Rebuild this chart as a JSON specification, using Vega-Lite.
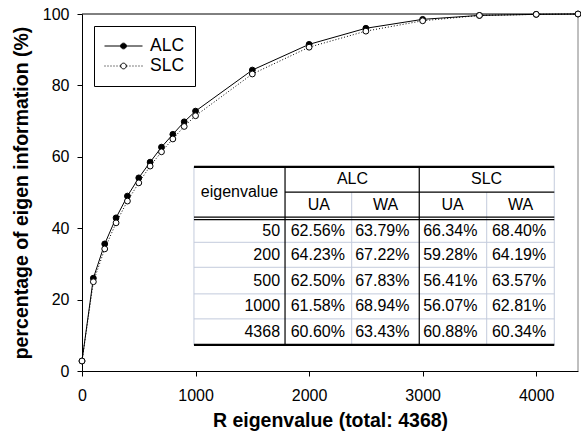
{
  "$schema": "https://vega.github.io/schema/vega-lite/v6.json",
  "width": 496,
  "height": 357,
  "autosize": {"type": "none"},
  "padding": {"left": 82, "top": 14, "right": 3, "bottom": 68},
  "background": "white",
  "config": {
    "font": "Liberation Sans",
    "view": {"stroke": null},
    "axis": {
      "labelFont": "Liberation Sans",
      "labelFontSize": 16,
      "labelColor": "black",
      "titleFont": "Liberation Sans",
      "titleFontSize": 19.5,
      "titleFontWeight": "bold",
      "titleColor": "black",
      "domainColor": "black",
      "domainWidth": 1,
      "tickColor": "black",
      "tickWidth": 1,
      "tickSize": 5,
      "grid": false,
      "labelFlush": false,
      "labelOverlap": false
    }
  },
  "datasets": {
    "curve": [
      {"series": "ALC", "x": 0, "y": 2.8},
      {"series": "ALC", "x": 100, "y": 26.0},
      {"series": "ALC", "x": 200, "y": 35.6},
      {"series": "ALC", "x": 300, "y": 42.9},
      {"series": "ALC", "x": 400, "y": 49.0},
      {"series": "ALC", "x": 500, "y": 54.1},
      {"series": "ALC", "x": 600, "y": 58.5},
      {"series": "ALC", "x": 700, "y": 62.7},
      {"series": "ALC", "x": 800, "y": 66.3},
      {"series": "ALC", "x": 900, "y": 69.8},
      {"series": "ALC", "x": 1000, "y": 72.8},
      {"series": "ALC", "x": 1500, "y": 84.3},
      {"series": "ALC", "x": 2000, "y": 91.5},
      {"series": "ALC", "x": 2500, "y": 96.0},
      {"series": "ALC", "x": 3000, "y": 98.5},
      {"series": "ALC", "x": 3500, "y": 99.6},
      {"series": "ALC", "x": 4000, "y": 99.9},
      {"series": "ALC", "x": 4368, "y": 100},
      {"series": "SLC", "x": 0, "y": 2.8},
      {"series": "SLC", "x": 100, "y": 25.0},
      {"series": "SLC", "x": 200, "y": 34.2},
      {"series": "SLC", "x": 300, "y": 41.5},
      {"series": "SLC", "x": 400, "y": 47.6},
      {"series": "SLC", "x": 500, "y": 52.7},
      {"series": "SLC", "x": 600, "y": 57.4},
      {"series": "SLC", "x": 700, "y": 61.4},
      {"series": "SLC", "x": 800, "y": 65.0},
      {"series": "SLC", "x": 900, "y": 68.5},
      {"series": "SLC", "x": 1000, "y": 71.5},
      {"series": "SLC", "x": 1500, "y": 83.2},
      {"series": "SLC", "x": 2000, "y": 90.7},
      {"series": "SLC", "x": 2500, "y": 95.2},
      {"series": "SLC", "x": 3000, "y": 98.1},
      {"series": "SLC", "x": 3500, "y": 99.6},
      {"series": "SLC", "x": 4000, "y": 99.9},
      {"series": "SLC", "x": 4368, "y": 100}
    ],
    "header": [
      {"text": "eigenvalue", "x": 1387, "y": 50.1},
      {"text": "ALC", "x": 2382, "y": 53.65},
      {"text": "SLC", "x": 3563, "y": 53.65},
      {"text": "UA", "x": 2085, "y": 46.6},
      {"text": "WA", "x": 2673, "y": 46.6},
      {"text": "UA", "x": 3263, "y": 46.6},
      {"text": "WA", "x": 3862, "y": 46.6}
    ],
    "rowlabels": [
      {"text": "50", "x": 1744, "y": 39.3},
      {"text": "200", "x": 1744, "y": 32.55},
      {"text": "500", "x": 1744, "y": 25.3},
      {"text": "1000", "x": 1744, "y": 18.1},
      {"text": "4368", "x": 1744, "y": 10.9}
    ],
    "cells": [
      {"text": "62.56%", "x": 2077, "y": 39.3},
      {"text": "63.79%", "x": 2645, "y": 39.3},
      {"text": "66.34%", "x": 3243, "y": 39.3},
      {"text": "68.40%", "x": 3849, "y": 39.3},
      {"text": "64.23%", "x": 2077, "y": 32.55},
      {"text": "67.22%", "x": 2645, "y": 32.55},
      {"text": "59.28%", "x": 3243, "y": 32.55},
      {"text": "64.19%", "x": 3849, "y": 32.55},
      {"text": "62.50%", "x": 2077, "y": 25.3},
      {"text": "67.83%", "x": 2645, "y": 25.3},
      {"text": "56.41%", "x": 3243, "y": 25.3},
      {"text": "63.57%", "x": 3849, "y": 25.3},
      {"text": "61.58%", "x": 2077, "y": 18.1},
      {"text": "68.94%", "x": 2645, "y": 18.1},
      {"text": "56.07%", "x": 3243, "y": 18.1},
      {"text": "62.81%", "x": 3849, "y": 18.1},
      {"text": "60.60%", "x": 2077, "y": 10.9},
      {"text": "63.43%", "x": 2645, "y": 10.9},
      {"text": "60.88%", "x": 3243, "y": 10.9},
      {"text": "60.34%", "x": 3849, "y": 10.9}
    ],
    "rules": [
      {"kind": "frametop", "x1": 0, "x2": 4368, "y1": 100, "y2": 100},
      {"kind": "frameright", "x1": 4368, "x2": 4368, "y1": 0, "y2": 100},
      {"kind": "light", "x1": 986, "x2": 986, "y1": 7.3, "y2": 57.2},
      {"kind": "light", "x1": 4159, "x2": 4159, "y1": 7.3, "y2": 57.2},
      {"kind": "light", "x1": 2375, "x2": 2375, "y1": 7.3, "y2": 50.1},
      {"kind": "light", "x1": 3564, "x2": 3564, "y1": 7.3, "y2": 50.1},
      {"kind": "light", "x1": 986, "x2": 4159, "y1": 36.05, "y2": 36.05},
      {"kind": "light", "x1": 986, "x2": 4159, "y1": 29.05, "y2": 29.05},
      {"kind": "light", "x1": 986, "x2": 4159, "y1": 21.6, "y2": 21.6},
      {"kind": "light", "x1": 986, "x2": 4159, "y1": 14.6, "y2": 14.6},
      {"kind": "thin", "x1": 1788, "x2": 1788, "y1": 7.3, "y2": 57.2},
      {"kind": "thin", "x1": 2970, "x2": 2970, "y1": 7.3, "y2": 57.2},
      {"kind": "thin", "x1": 1788, "x2": 4159, "y1": 50.1, "y2": 50.1},
      {"kind": "thin", "x1": 986, "x2": 4159, "y1": 43.1, "y2": 43.1},
      {"kind": "thin", "x1": 986, "x2": 4159, "y1": 42.4, "y2": 42.4},
      {"kind": "thick", "x1": 986, "x2": 4159, "y1": 57.2, "y2": 57.2},
      {"kind": "thick", "x1": 986, "x2": 4159, "y1": 7.3, "y2": 7.3}
    ]
  },
  "layer": [
    {
      "data": {"name": "curve"},
      "transform": [{"filter": "datum.series === 'ALC'"}],
      "mark": {"type": "line", "stroke": "black", "strokeWidth": 1},
      "encoding": {
        "x": {
          "field": "x", "type": "quantitative",
          "scale": {"domain": [0, 4368], "nice": false},
          "axis": {"values": [0, 1000, 2000, 3000, 4000], "format": "d", "title": "R eigenvalue (total: 4368)", "labelPadding": 11, "titlePadding": 8}
        },
        "y": {
          "field": "y", "type": "quantitative",
          "scale": {"domain": [0, 100], "nice": false},
          "axis": {"values": [0, 20, 40, 60, 80, 100], "format": "d", "title": "percentage of eigen information (%)", "labelPadding": 8, "titlePadding": 11}
        }
      }
    },
    {
      "data": {"name": "rules"},
      "transform": [{"filter": "datum.kind === 'frametop'"}],
      "mark": {"type": "rule", "stroke": "black", "strokeWidth": 1},
      "encoding": {
        "x": {"field": "x1", "type": "quantitative", "scale": {"domain": [0, 4368], "nice": false}},
        "x2": {"field": "x2"},
        "y": {"field": "y1", "type": "quantitative", "scale": {"domain": [0, 100], "nice": false}},
        "y2": {"field": "y2"}
      }
    },
    {
      "data": {"name": "rules"},
      "transform": [{"filter": "datum.kind === 'frameright'"}],
      "mark": {"type": "rule", "stroke": "#808080", "strokeWidth": 1},
      "encoding": {
        "x": {"field": "x1", "type": "quantitative", "scale": {"domain": [0, 4368], "nice": false}},
        "x2": {"field": "x2"},
        "y": {"field": "y1", "type": "quantitative", "scale": {"domain": [0, 100], "nice": false}},
        "y2": {"field": "y2"}
      }
    },
    {
      "data": {"name": "rules"},
      "transform": [{"filter": "datum.kind === 'light'"}],
      "mark": {"type": "rule", "stroke": "#c3cbdc", "strokeWidth": 1},
      "encoding": {
        "x": {"field": "x1", "type": "quantitative", "scale": {"domain": [0, 4368], "nice": false}},
        "x2": {"field": "x2"},
        "y": {"field": "y1", "type": "quantitative", "scale": {"domain": [0, 100], "nice": false}},
        "y2": {"field": "y2"}
      }
    },
    {
      "data": {"name": "rules"},
      "transform": [{"filter": "datum.kind === 'thin'"}],
      "mark": {"type": "rule", "stroke": "black", "strokeWidth": 1.2},
      "encoding": {
        "x": {"field": "x1", "type": "quantitative", "scale": {"domain": [0, 4368], "nice": false}},
        "x2": {"field": "x2"},
        "y": {"field": "y1", "type": "quantitative", "scale": {"domain": [0, 100], "nice": false}},
        "y2": {"field": "y2"}
      }
    },
    {
      "data": {"name": "rules"},
      "transform": [{"filter": "datum.kind === 'thick'"}],
      "mark": {"type": "rule", "stroke": "black", "strokeWidth": 2.2},
      "encoding": {
        "x": {"field": "x1", "type": "quantitative", "scale": {"domain": [0, 4368], "nice": false}},
        "x2": {"field": "x2"},
        "y": {"field": "y1", "type": "quantitative", "scale": {"domain": [0, 100], "nice": false}},
        "y2": {"field": "y2"}
      }
    },
    {
      "data": {"name": "header"},
      "mark": {"type": "text", "fontSize": 16, "font": "Liberation Sans", "color": "black", "align": "center", "baseline": "middle"},
      "encoding": {
        "x": {"field": "x", "type": "quantitative", "scale": {"domain": [0, 4368], "nice": false}},
        "y": {"field": "y", "type": "quantitative", "scale": {"domain": [0, 100], "nice": false}},
        "text": {"field": "text"}
      }
    },
    {
      "data": {"name": "rowlabels"},
      "mark": {"type": "text", "fontSize": 16, "font": "Liberation Sans", "color": "black", "align": "right", "baseline": "middle"},
      "encoding": {
        "x": {"field": "x", "type": "quantitative", "scale": {"domain": [0, 4368], "nice": false}},
        "y": {"field": "y", "type": "quantitative", "scale": {"domain": [0, 100], "nice": false}},
        "text": {"field": "text"}
      }
    },
    {
      "data": {"name": "cells"},
      "mark": {"type": "text", "fontSize": 16, "font": "Liberation Sans", "color": "black", "align": "center", "baseline": "middle"},
      "encoding": {
        "x": {"field": "x", "type": "quantitative", "scale": {"domain": [0, 4368], "nice": false}},
        "y": {"field": "y", "type": "quantitative", "scale": {"domain": [0, 100], "nice": false}},
        "text": {"field": "text"}
      }
    },
    {
      "data": {"name": "curve"},
      "transform": [{"filter": "datum.series === 'SLC'"}],
      "mark": {"type": "line", "stroke": "black", "strokeWidth": 1, "strokeDash": [1, 2]},
      "encoding": {
        "x": {"field": "x", "type": "quantitative", "scale": {"domain": [0, 4368], "nice": false}},
        "y": {"field": "y", "type": "quantitative", "scale": {"domain": [0, 100], "nice": false}}
      }
    },
    {
      "data": {"name": "curve"},
      "transform": [{"filter": "datum.series === 'ALC'"}],
      "mark": {"type": "point", "shape": "circle", "filled": true, "fill": "black", "stroke": "black", "strokeWidth": 1, "size": 34, "opacity": 1},
      "encoding": {
        "x": {"field": "x", "type": "quantitative", "scale": {"domain": [0, 4368], "nice": false}},
        "y": {"field": "y", "type": "quantitative", "scale": {"domain": [0, 100], "nice": false}}
      }
    },
    {
      "data": {"name": "curve"},
      "transform": [{"filter": "datum.series === 'SLC'"}],
      "mark": {"type": "point", "shape": "circle", "filled": true, "fill": "white", "stroke": "black", "strokeWidth": 1, "size": 34, "opacity": 1},
      "encoding": {
        "x": {"field": "x", "type": "quantitative", "scale": {"domain": [0, 4368], "nice": false}},
        "y": {"field": "y", "type": "quantitative", "scale": {"domain": [0, 100], "nice": false}}
      }
    },
    {
      "data": {"name": "curve"},
      "mark": {"type": "point", "filled": true, "stroke": "black", "strokeWidth": 1, "size": 1, "opacity": 0},
      "encoding": {
        "x": {"field": "x", "type": "quantitative", "scale": {"domain": [0, 4368], "nice": false}},
        "y": {"field": "y", "type": "quantitative", "scale": {"domain": [0, 100], "nice": false}},
        "shape": {
          "field": "series", "type": "nominal",
          "scale": {
            "domain": ["ALC", "SLC"],
            "range": [
              "M-1,0H1M0.15,0A0.15,0.15,0,1,1,-0.15,0A0.15,0.15,0,1,1,0.15,0Z",
              "M-1,0H-0.947M-0.842,0H-0.789M-0.684,0H-0.631M-0.526,0H-0.473M-0.368,0H-0.315M-0.21,0H-0.157M0.157,0H0.21M0.315,0H0.368M0.473,0H0.526M0.631,0H0.684M0.789,0H0.842M0.947,0H1M0.15,0A0.15,0.15,0,1,1,-0.15,0A0.15,0.15,0,1,1,0.15,0Z"
            ]
          },
          "legend": {
            "title": null, "orient": "top-left", "offset": 12, "padding": 10,
            "strokeColor": "black", "fillColor": "white",
            "symbolSize": 1444, "symbolStrokeWidth": 1, "symbolStrokeColor": "black", "symbolOpacity": 1,
            "labelFontSize": 17.5, "labelFont": "Liberation Sans", "labelColor": "black", "labelOffset": 7,
            "clipHeight": 20, "rowPadding": 0, "labelLimit": 200,
            "encode": {"symbols": {"update": {"opacity": {"value": 1}, "stroke": {"value": "black"}, "strokeWidth": {"value": 1}}}}
          }
        },
        "fill": {
          "field": "series", "type": "nominal",
          "scale": {"domain": ["ALC", "SLC"], "range": ["black", "white"]},
          "legend": {
            "title": null, "orient": "top-left", "offset": 12, "padding": 10,
            "strokeColor": "black", "fillColor": "white",
            "symbolSize": 1444, "symbolStrokeWidth": 1, "symbolStrokeColor": "black", "symbolOpacity": 1,
            "labelFontSize": 17.5, "labelFont": "Liberation Sans", "labelColor": "black", "labelOffset": 7,
            "clipHeight": 20, "rowPadding": 0, "labelLimit": 200,
            "encode": {"symbols": {"update": {"opacity": {"value": 1}, "stroke": {"value": "black"}, "strokeWidth": {"value": 1}}}}
          }
        }
      }
    }
  ]
}
